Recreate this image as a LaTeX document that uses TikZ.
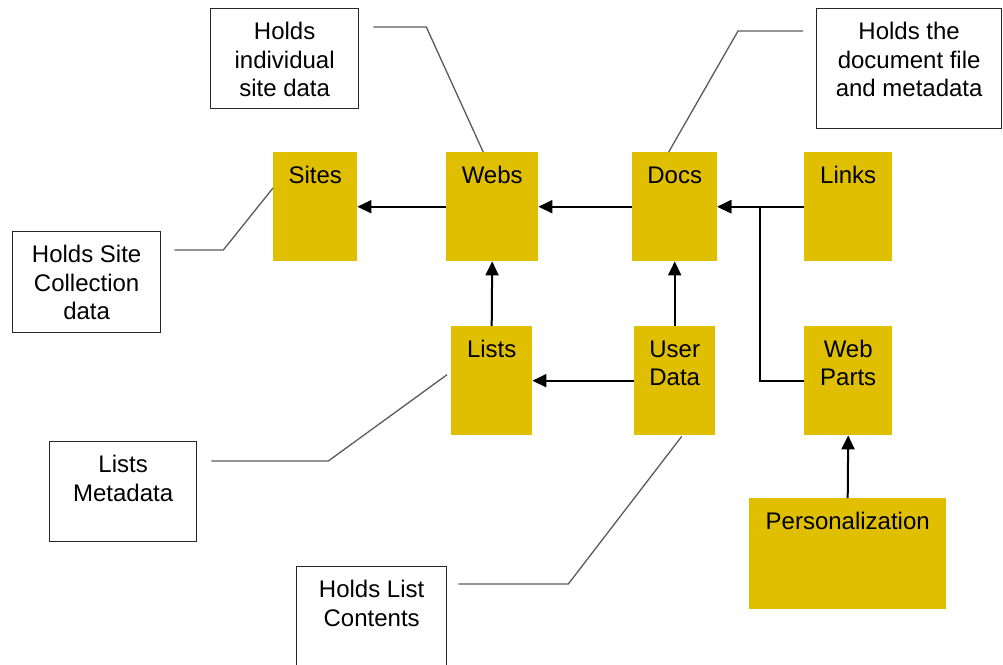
\documentclass[tikz,border=0pt]{standalone}
\usepackage{fontspec}
\setmainfont{Liberation Sans}
\usetikzlibrary{arrows.meta,calc}
\definecolor{storeyellow}{RGB}{224,191,0}
\definecolor{calloutgray}{RGB}{90,90,90}
\newcommand{\boxtext}[3]{\parbox[c][#2pt][t]{#1pt}{\centering\rule{0pt}{31pt}#3}}

\begin{document}
\begin{tikzpicture}[x=1pt, y=-1pt,
    store/.style={fill=storeyellow, inner sep=0pt, anchor=north west, font=\fontsize{24}{28.5}\selectfont},
    note/.style={draw=black!85, line width=1.3pt, fill=white, inner sep=0pt, anchor=north west, font=\fontsize{24}{28.5}\selectfont},
    flow/.style={line width=2pt, -{Triangle[length=14pt,width=13pt]}},
    callout/.style={draw=calloutgray, line width=1.3pt}]
  \clip (0,0) rectangle (1003,664);

  % stores
  \node[store] (sites)    at (273,152) {\boxtext{84}{109}{Sites}};
  \node[store] (webs)     at (446,152) {\boxtext{92}{109}{Webs}};
  \node[store] (docs)     at (632,152) {\boxtext{85}{109}{Docs}};
  \node[store] (links)    at (804,152) {\boxtext{88}{109}{Links}};
  \node[store] (lists)    at (451,326) {\boxtext{81}{109}{Lists}};
  \node[store] (userdata) at (634,326) {\boxtext{81}{109}{User\\Data}};
  \node[store] (webparts) at (804,326) {\boxtext{88}{109}{Web\\Parts}};
  \node[store] (personal) at (749,498) {\boxtext{197}{111}{Personalization}};

  % notes
  \node[note] (holdsweb)  at (210,8)   {\boxtext{148}{100}{Holds\\individual\\site data}};
  \node[note] (holdssite) at (12,231)  {\boxtext{148}{101}{Holds Site\\Collection\\data}};
  \node[note] (holdsdoc)  at (816,8)   {\boxtext{185}{120}{Holds the\\document file\\and metadata}};
  \node[note] (listsmeta) at (49,441)  {\boxtext{147}{100}{Lists\\Metadata}};
  \node[note] (listcont)  at (296,566) {\boxtext{150}{110}{Holds List\\Contents}};

  % flows
  \draw[flow] (webs.west) -- (sites.east);
  \draw[flow] (docs.west) -- (webs.east);
  \draw[flow] (links.west) -- (docs.east);
  \draw[flow] (webparts.west) -- ++(-44,0) |- (docs.east);
  \draw[flow] (userdata.north) -- (docs.south);
  \draw[flow] (userdata.west) -- (lists.east);
  \draw[flow] (lists.north) -- (webs.south);
  \draw[flow] (personal.north) -- (webparts.south);

  % callouts
  \draw[callout] ($(holdsweb.north east)+(14,19)$) -- ++(53,0) -- ($(webs.north)+(-9,0)$);
  \draw[callout] ($(holdssite.north east)+(13,19)$) -- ++(49,0) -- ($(sites.north west)+(0,36)$);
  \draw[callout] ($(holdsdoc.north west)+(-13,23)$) -- ++(-65,0) -- ($(docs.north)+(-6,0)$);
  \draw[callout] ($(listsmeta.north east)+(14,20)$) -- ++(117,0) -- ($(lists.west)+(-4,-6)$);
  \draw[callout] ($(listcont.north east)+(11,18)$) -- ++(110,0) -- ($(userdata.south)+(7,1)$);
\end{tikzpicture}
\end{document}
